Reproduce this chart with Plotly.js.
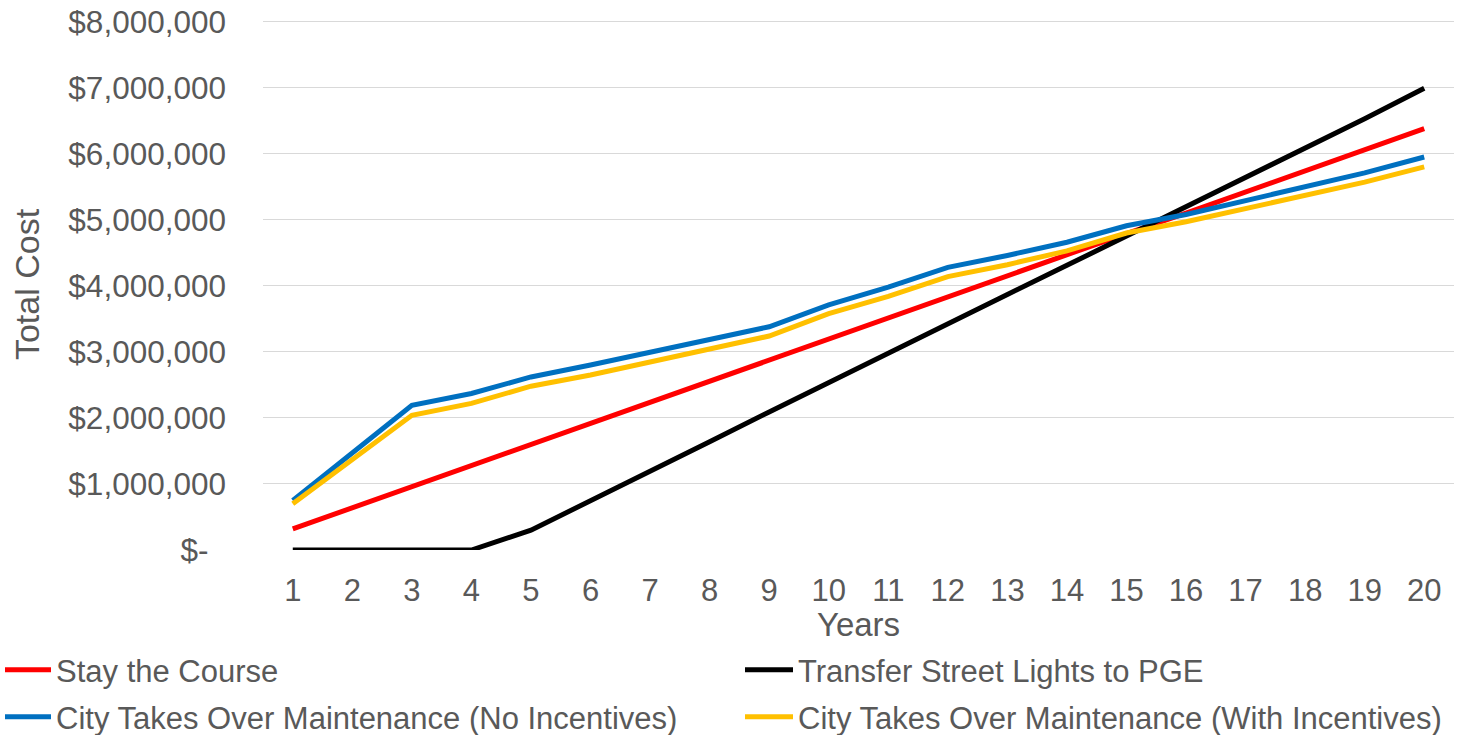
<!DOCTYPE html>
<html>
<head>
<meta charset="utf-8">
<script src="https://cdn.plot.ly/plotly-3.0.1.min.js"></script>
<style>
  html, body { margin: 0; padding: 0; background: #ffffff; }
  #chart { width: 1468px; height: 735px; }
</style>
</head>
<body>
<div id="chart"></div>
<script>
const years = [1, 2, 3, 4, 5, 6, 7, 8, 9, 10, 11, 12, 13, 14, 15, 16, 17, 18, 19, 20];
const stayCourse = [320000, 640000, 960000, 1270000, 1590000, 1910000, 2230000, 2550000, 2870000, 3190000, 3510000, 3830000, 4150000, 4470000, 4790000, 5100000, 5420000, 5740000, 6060000, 6380000];
const transferPGE = [0, 0, 0, 0, 300000, 740000, 1190000, 1640000, 2090000, 2540000, 2990000, 3430000, 3870000, 4310000, 4750000, 5200000, 5640000, 6080000, 6530000, 6990000];
const noIncentives = [750000, 1470000, 2190000, 2370000, 2620000, 2800000, 2990000, 3190000, 3380000, 3710000, 3980000, 4280000, 4460000, 4660000, 4910000, 5080000, 5290000, 5500000, 5710000, 5950000];
const withIncentives = [700000, 1370000, 2040000, 2220000, 2480000, 2650000, 2850000, 3040000, 3240000, 3580000, 3840000, 4140000, 4320000, 4530000, 4800000, 4970000, 5170000, 5370000, 5570000, 5800000];
const seriesNames = ["Stay the Course", "Transfer Street Lights to PGE", "City Takes Over Maintenance (No Incentives)", "City Takes Over Maintenance (With Incentives)"];
const yTickVals = [0, 1000000, 2000000, 3000000, 4000000, 5000000, 6000000, 7000000, 8000000];
const yTickText = ["$-\u00a0\u00a0", "$1,000,000", "$2,000,000", "$3,000,000", "$4,000,000", "$5,000,000", "$6,000,000", "$7,000,000", "$8,000,000"];

const colors = ["#FF0000", "#000000", "#0070C0", "#FFC000"];
const seriesValues = [stayCourse, transferPGE, noIncentives, withIncentives];
const legendIds = ["legend", "legend2", "legend3", "legend4"];

const traces = seriesValues.map((vals, i) => ({
  x: years,
  y: vals,
  type: "scatter",
  mode: "lines",
  name: seriesNames[i],
  legend: legendIds[i],
  line: { color: colors[i], width: 5 },
  hoverinfo: "x+y+name"
}));

const FONT = "Liberation Sans, Arial, sans-serif";
const TEXT = "#595959";

function legendCell(xLeft, yCenter, itemW) {
  return {
    orientation: "h",
    xref: "container",
    yref: "container",
    x: xLeft / 1468,
    xanchor: "left",
    y: 1 - yCenter / 735,
    yanchor: "middle",
    itemwidth: itemW,
    font: { family: FONT, color: TEXT, size: 31 },
    bgcolor: "rgba(0,0,0,0)",
    traceorder: "normal"
  };
}

const layout = {
  width: 1468,
  height: 735,
  paper_bgcolor: "#ffffff",
  plot_bgcolor: "#ffffff",
  margin: { l: 263, r: 14, t: 19, b: 185, pad: 0 },
  font: { family: FONT, color: TEXT, size: 31 },
  showlegend: true,
  legend: legendCell(0, 670, 46),
  legend2: legendCell(740, 670, 48),
  legend3: legendCell(0, 717, 46),
  legend4: legendCell(740, 717, 48),
  xaxis: {
    type: "linear",
    range: [0.5, 20.5],
    tickvals: years,
    ticktext: years.map(String),
    showgrid: false,
    zeroline: false,
    showline: false,
    ticks: "",
    ticklabelstandoff: 19,
    tickfont: { family: FONT, color: TEXT, size: 31 },
    title: { text: "Years", font: { family: FONT, color: TEXT, size: 33 }, standoff: 23 },
    fixedrange: true
  },
  yaxis: {
    range: [0, 8040000],
    tickvals: yTickVals,
    ticktext: yTickText,
    showgrid: true,
    gridcolor: "#D9D9D9",
    gridwidth: 1.3,
    zeroline: false,
    showline: false,
    ticks: "",
    ticklabelstandoff: 36,
    tickfont: { family: FONT, color: TEXT, size: 31.5 },
    title: { text: "Total Cost", font: { family: FONT, color: TEXT, size: 34 }, standoff: 18 },
    fixedrange: true
  }
};

Plotly.newPlot("chart", traces, layout, { displayModeBar: false, responsive: false });
</script>
</body>
</html>
